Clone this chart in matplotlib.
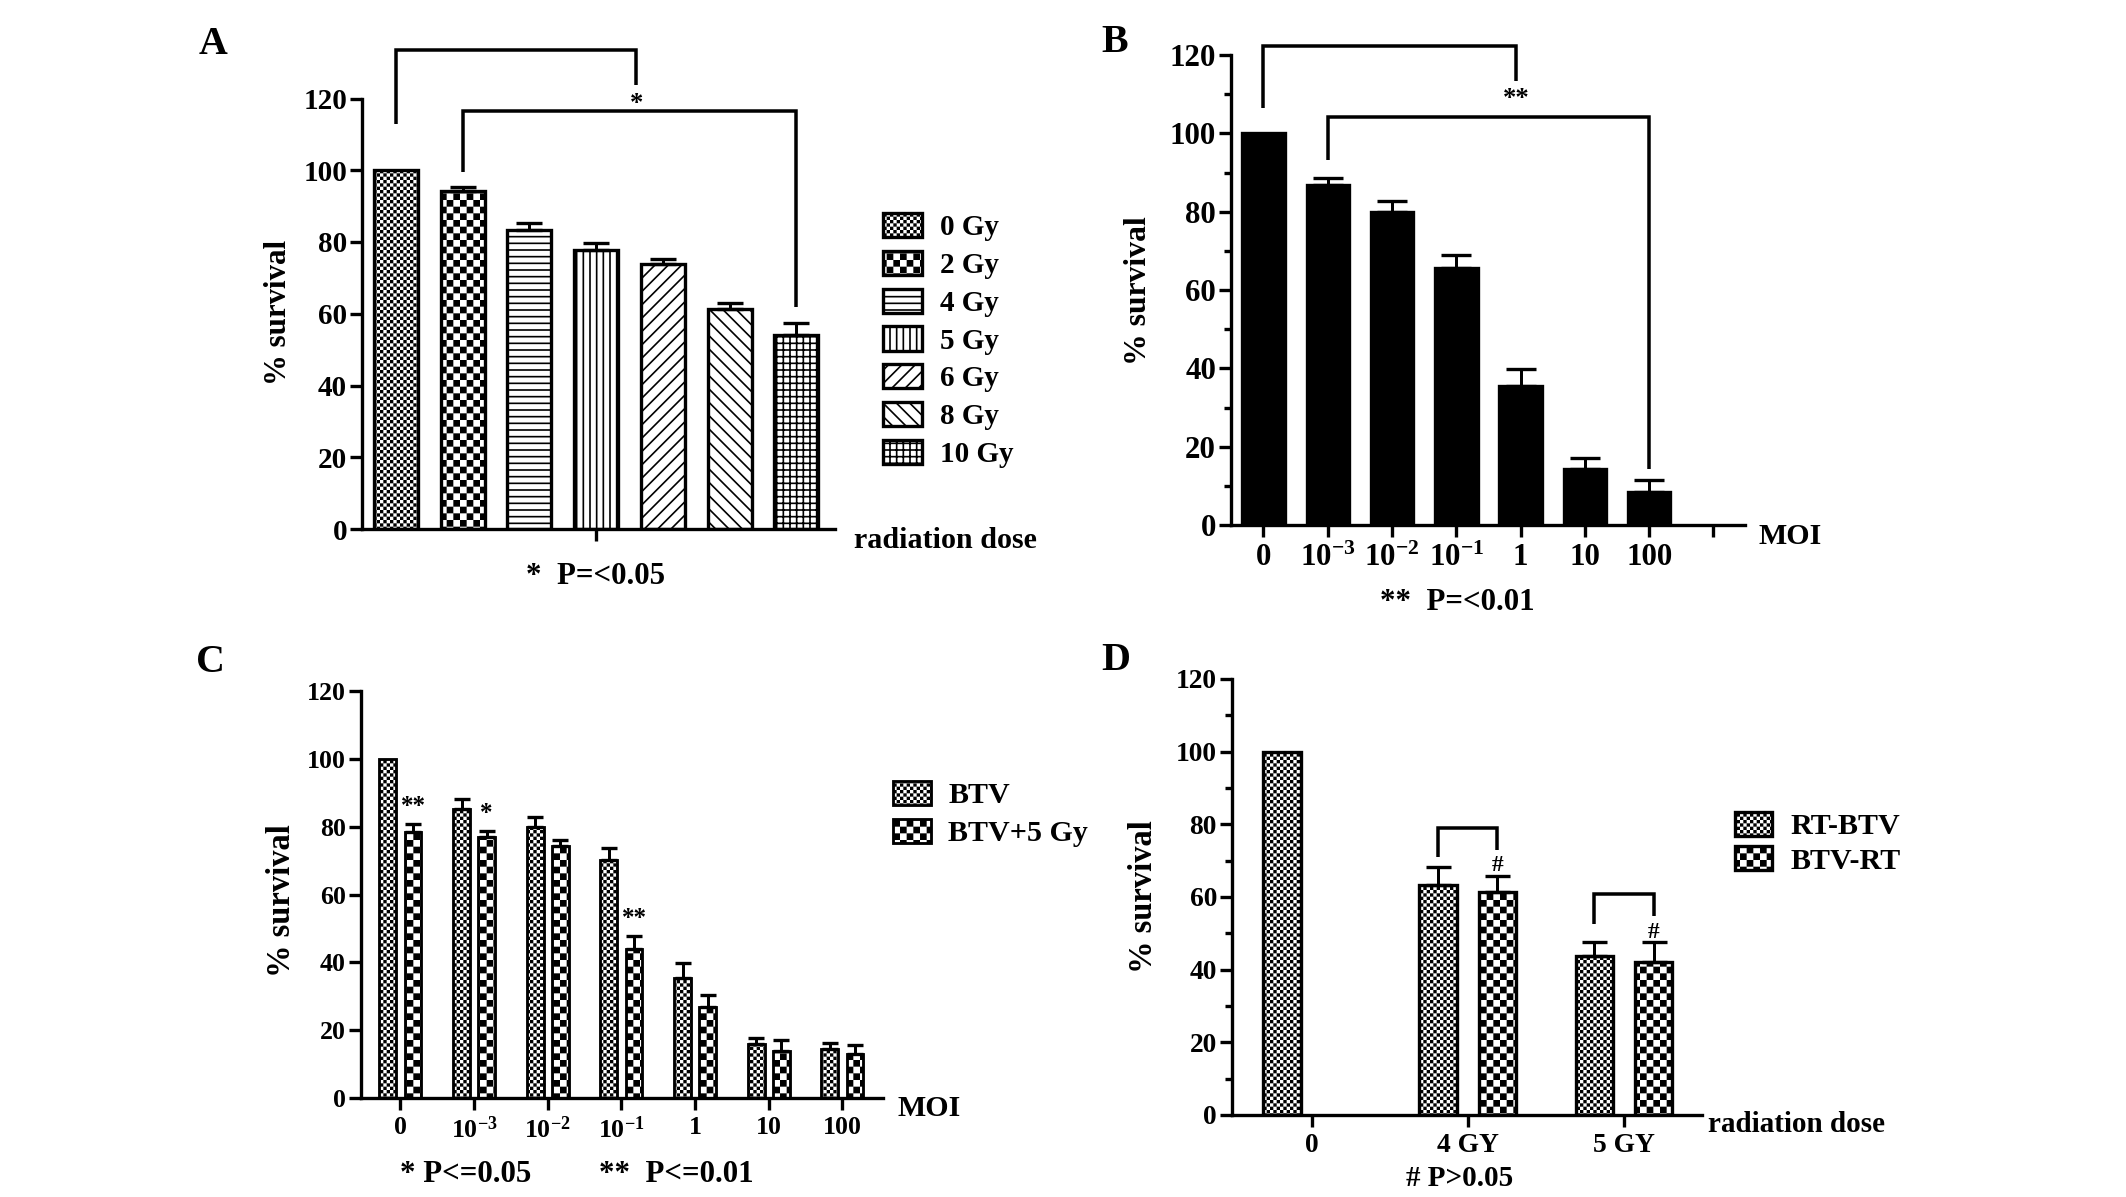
import numpy as np
import warnings
import matplotlib
matplotlib.use("Agg")
import matplotlib.pyplot as plt
import matplotlib.hatch as mhatch
from matplotlib.path import Path

warnings.filterwarnings("ignore")

# ---------------- data ----------------
doses_a = ["0 Gy", "2 Gy", "4 Gy", "5 Gy", "6 Gy", "8 Gy", "10 Gy"]
surv_a = [100.0, 94.2, 83.3, 77.7, 73.8, 61.4, 54.1]
err_a = [0.0, 1.1, 2.1, 2.0, 1.6, 1.6, 3.4]

moi_labels = ["0", r"$10^{-3}$", r"$10^{-2}$", r"$10^{-1}$", "1", "10", "100"]
surv_b = [100.0, 86.8, 80.0, 65.6, 35.5, 14.2, 8.5]
err_b = [0.0, 1.9, 2.8, 3.3, 4.3, 2.9, 3.1]

series_c = ["BTV", "BTV+5 Gy"]
btv_c = [100.0, 85.1, 79.9, 70.1, 35.5, 15.9, 14.4]
btv_c_err = [0.0, 3.0, 2.9, 3.5, 4.2, 1.9, 1.7]
btv5_c = [78.3, 76.9, 74.3, 43.9, 26.7, 14.0, 13.0]
btv5_c_err = [2.6, 1.9, 1.7, 4.0, 3.6, 3.2, 2.7]
sig_c = ["**", "*", "", "**", "", "", ""]

dose_d = ["0", "4 GY", "5 GY"]
series_d = ["RT-BTV", "BTV-RT"]
rt_btv_d = [100.0, 63.3, 43.7]
rt_btv_d_err = [0.0, 4.9, 3.8]
btv_rt_d = [np.nan, 61.4, 42.2]
btv_rt_d_err = [np.nan, 4.5, 5.3]

# ---------------- setup ----------------
DPI = 120
W, H = 2126, 1197
HATCH_LW = 1.0  # pt

plt.rcParams.update({
    "font.family": ["Liberation Serif", "DejaVu Serif"],
    "font.weight": "bold",
    "axes.labelweight": "bold",
    "mathtext.fontset": "custom",
    "mathtext.rm": "Liberation Serif:bold",
    "mathtext.it": "Liberation Serif:bold",
    "mathtext.bf": "Liberation Serif:bold",
    "mathtext.default": "rm",
    "hatch.linewidth": HATCH_LW,
    "hatch.color": "black",
})


class _Checker(mhatch.HatchPatternBase):
    char = "o"
    ncells = 40

    def __init__(self, hatch, density):
        self.n = self.ncells if self.char in hatch else 0
        self.num_vertices = (self.n * self.n // 2) * 5

    def set_vertices_and_codes(self, vertices, codes):
        n = self.n
        cell = 1.0 / n
        shrink = (HATCH_LW * DPI / 72.0) / DPI
        s = max(cell - shrink, cell * 0.25)
        off = (cell - s) / 2
        k = 0
        for i in range(n):
            for j in range(n):
                if (i + j) % 2 == 0:
                    x0 = i * cell + off
                    y0 = j * cell + off
                    vertices[k:k + 5] = [(x0, y0), (x0 + s, y0), (x0 + s, y0 + s),
                                         (x0, y0 + s), (x0, y0)]
                    codes[k:k + 5] = [Path.MOVETO, Path.LINETO, Path.LINETO,
                                      Path.LINETO, Path.CLOSEPOLY]
                    k += 5


class FineChecker(_Checker):
    char = "o"
    ncells = 36


class CoarseChecker(_Checker):
    char = "O"
    ncells = 18


mhatch._hatch_types[:] = [t for t in mhatch._hatch_types
                          if t not in (mhatch.SmallCircles, mhatch.LargeCircles)] + [FineChecker, CoarseChecker]

FINE, COARSE = "o", "O"

fig = plt.figure(figsize=(W / DPI, H / DPI), dpi=DPI)


def make_axes(left, right, y0, ytop):
    return fig.add_axes([left / W, 1 - y0 / H, (right - left) / W, (y0 - ytop) / H])


def style(ax, xlim, minor, tsize):
    ax.set_xlim(*xlim)
    ax.set_ylim(0, 120)
    for s in ("top", "right"):
        ax.spines[s].set_visible(False)
    for s in ("left", "bottom"):
        ax.spines[s].set_linewidth(2.0)
    ax.set_yticks(range(0, 121, 20))
    if minor:
        ax.set_yticks(range(10, 120, 20), minor=True)
    ax.tick_params(which="major", length=7, width=2, labelsize=tsize, pad=2)
    ax.tick_params(axis="x", which="major", pad=4)
    ax.tick_params(which="minor", length=4, width=2)
    ax.patch.set_alpha(0)


def ylabel_at(ax, px, py, size):
    ax.set_ylabel("% survival", fontsize=size, va="center")
    b = ax.get_position()
    ax.yaxis.set_label_coords((px / W - b.x0) / b.width, ((1 - py / H) - b.y0) / b.height)


def ftext(px, py, s, size, **kw):
    fig.text(px / W, 1 - py / H, s, fontsize=size, ha=kw.pop("ha", "center"),
             va=kw.pop("va", "center"), **kw)


def bracket(ax, x0, x1, yl, yt, yr):
    ax.plot([x0, x0, x1, x1], [yl, yt, yt, yr], color="black", lw=2.1,
            clip_on=False, solid_joinstyle="miter", solid_capstyle="butt")


def upper_err(ax, x, y, e, capsize):
    x = np.asarray(x, float)
    y = np.asarray(y, float)
    e = np.asarray(e, float)
    m = np.nan_to_num(e) > 0
    ax.errorbar(x[m], y[m], yerr=[np.zeros(m.sum()), e[m]], fmt="none",
                ecolor="black", elinewidth=1.8, capsize=capsize, capthick=2.0,
                clip_on=False)


# ---------------- Panel A ----------------
axA = make_axes(362, 835, 529, 98.5)
xa = np.arange(len(doses_a))
hatches_a = [FINE, COARSE, "---", "|||", "///", "\\\\\\", "+++"]
for i in range(len(doses_a)):
    axA.bar(xa[i], surv_a[i], width=0.66, color="white", edgecolor="black",
            linewidth=2.0, hatch=hatches_a[i], label=doses_a[i])
upper_err(axA, xa, surv_a, err_a, 8)
style(axA, (-0.51, 6.58), False, 17.5)
axA.set_xticks([3])
axA.set_xticklabels([""])
ylabel_at(axA, 279, 312, 18.5)
bracket(axA, 0, 3.6, 112.9, 133.4, 123.9)
bracket(axA, 1, 6, 99.6, 116.6, 61.8)
axA.text(3.6, 118.2, "*", ha="center", va="center", fontsize=16)
axA.legend(loc="upper left", bbox_to_anchor=(883 / W, 1 - 213 / H),
           bbox_transform=fig.transFigure, frameon=False, fontsize=17.5,
           handlelength=1.35, handleheight=0.9, handletextpad=0.6,
           labelspacing=0.33, borderpad=0, borderaxespad=0)
ftext(213, 45, "A", 24)
ftext(945, 540, "radiation dose", 18)
ftext(595, 577, "*  P=<0.05", 18.5)

# ---------------- Panel B ----------------
axB = make_axes(1231, 1745, 525, 55)
xb = np.arange(len(moi_labels))
axB.bar(xb, surv_b, width=0.66, color="black", edgecolor="black", linewidth=2.0)
upper_err(axB, xb, surv_b, err_b, 9)
style(axB, (-0.505, 7.49), True, 18.5)
axB.set_xticks(np.arange(len(moi_labels) + 1))
axB.set_xticklabels(moi_labels + [""])
ylabel_at(axB, 1139, 291, 19)
bracket(axB, 0, 3.93, 106.4, 122.3, 113.4)
bracket(axB, 1, 6, 93.3, 104.1, 14.2)
axB.text(3.93, 108.6, "**", ha="center", va="center", fontsize=16)
ftext(1115, 42, "B", 24)
ftext(1790, 537, "MOI", 18)
ftext(1457, 603, "**  P=<0.01", 18.5)

# ---------------- Panel C ----------------
axC = make_axes(361, 883, 1098, 691)
xc = np.arange(len(moi_labels))
axC.bar(xc - 0.17, btv_c, width=0.23, color="white", edgecolor="black",
        linewidth=1.7, hatch=FINE, label=series_c[0])
axC.bar(xc + 0.17, btv5_c, width=0.23, color="white", edgecolor="black",
        linewidth=1.7, hatch=COARSE, label=series_c[1])
upper_err(axC, xc - 0.17, btv_c, btv_c_err, 5)
upper_err(axC, xc + 0.17, btv5_c, btv5_c_err, 5)
for i, s in enumerate(sig_c):
    if s:
        axC.text(xc[i] + 0.17, btv5_c[i] + btv5_c_err[i] + 5.0, s,
                 ha="center", va="center", fontsize=15)
style(axC, (-0.536, 6.55), False, 15.5)
axC.set_xticks(xc)
axC.set_xticklabels(moi_labels)
ylabel_at(axC, 281, 901, 19.5)
axC.legend(loc="upper left", bbox_to_anchor=(893 / W, 1 - 781 / H),
           bbox_transform=fig.transFigure, frameon=False, fontsize=18,
           handlelength=1.25, handleheight=0.85, handletextpad=0.6,
           labelspacing=0.32, borderpad=0, borderaxespad=0)
ftext(210, 663, "C", 24)
ftext(929, 1108, "MOI", 18)
ftext(466, 1175, "* P<=0.05", 18.5)
ftext(676, 1175, "**  P<=0.01", 18.5)

# ---------------- Panel D ----------------
axD = make_axes(1232, 1702, 1115, 679)
xd = np.arange(len(dose_d))
axD.bar(xd - 0.19, rt_btv_d, width=0.24, color="white", edgecolor="black",
        linewidth=2.0, hatch=FINE, label=series_d[0])
mask = ~np.isnan(btv_rt_d)
axD.bar(xd[mask] + 0.19, np.asarray(btv_rt_d)[mask], width=0.24, color="white",
        edgecolor="black", linewidth=2.0, hatch=COARSE, label=series_d[1])
upper_err(axD, xd - 0.19, rt_btv_d, rt_btv_d_err, 7.5)
upper_err(axD, xd[mask] + 0.19, np.asarray(btv_rt_d)[mask],
          np.asarray(btv_rt_d_err)[mask], 7.5)
style(axD, (-0.51, 2.5), True, 16.5)
axD.set_xticks(xd)
axD.set_xticklabels(dose_d)
ylabel_at(axD, 1144, 897, 19.5)
bracket(axD, 0.81, 1.19, 71.0, 79.1, 72.8)
bracket(axD, 1.81, 2.19, 52.5, 60.8, 54.7)
for i in (1, 2):
    axD.text(xd[i] + 0.19, btv_rt_d[i] + btv_rt_d_err[i] + 2.8, "#",
             ha="center", va="center", fontsize=14)
axD.legend(loc="upper left", bbox_to_anchor=(1735 / W, 1 - 812 / H),
           bbox_transform=fig.transFigure, frameon=False, fontsize=18,
           handlelength=1.25, handleheight=0.85, handletextpad=0.6,
           labelspacing=0.2, borderpad=0, borderaxespad=0)
ftext(1116, 661, "D", 24)
ftext(1797, 1125, "radiation dose", 17.5)
ftext(1460, 1179, "# P>0.05", 17.5)

fig.savefig("out.png", dpi=DPI)
